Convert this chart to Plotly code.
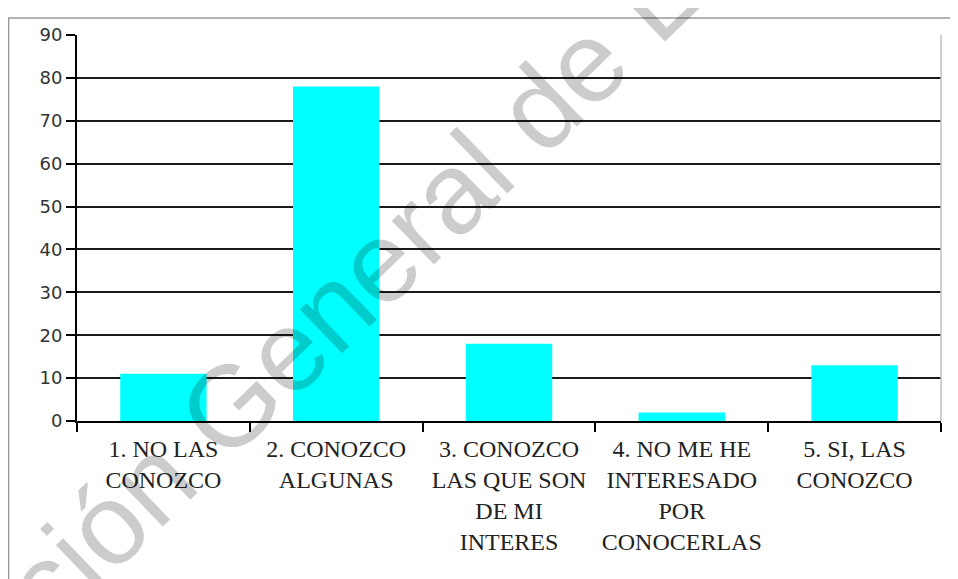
import plotly.graph_objects as go

categories = [
    "1. NO LAS<br>CONOZCO",
    "2. CONOZCO<br>ALGUNAS",
    "3. CONOZCO<br>LAS QUE SON<br>DE MI<br>INTERES",
    "4. NO ME HE<br>INTERESADO<br>POR<br>CONOCERLAS",
    "5. SI, LAS<br>CONOZCO",
]
values = [11, 78, 18, 2, 13]
y_ticks = [0, 10, 20, 30, 40, 50, 60, 70, 80, 90]
watermark = "ción General de L"

# page body has an 8px margin; figure sized so it fills the window
OFF = 8
W, H = 958 - OFF, 579 - OFF
L, R, T, B = 77 - OFF, 17, 35 - OFF, 158
pw, ph = W - L - R, H - T - B


def px_x(p):  # reference-window pixel -> paper x
    return (p - OFF - L) / pw


def px_y(p):  # reference-window pixel -> paper y
    return (H - B - (p - OFF)) / ph


fig = go.Figure()
fig.add_trace(go.Bar(
    x=categories, y=values,
    marker=dict(color="#00FFFF", line=dict(width=0)),
))

fig.update_layout(
    width=W, height=H,
    margin=dict(l=L, r=R, t=T, b=B),
    paper_bgcolor="white", plot_bgcolor="white",
    bargap=0.5,
    showlegend=False,
    xaxis=dict(
        type="category",
        showgrid=False,
        showline=True, linecolor="#000", linewidth=2,
        ticks="outside", ticklen=9, tickwidth=2, tickcolor="#000",
        tickson="boundaries",
        tickfont=dict(family="Liberation Serif", size=24, color="#222"),
        tickangle=0,
        ticklabelstandoff=5,
        fixedrange=True,
    ),
    yaxis=dict(
        range=[0, 90],
        tickvals=y_ticks,
        showgrid=True, gridcolor="#1a1a1a", gridwidth=2,
        showline=True, linecolor="#000", linewidth=2,
        ticks="outside", ticklen=9, tickwidth=2, tickcolor="#000",
        tickfont=dict(family="DejaVu Sans", size=18, color="#333"),
        zeroline=False,
        fixedrange=True,
    ),
    shapes=[
        dict(type="rect", xref="paper", yref="paper",
             x0=px_x(8.6), x1=px_x(975), y0=px_y(595), y1=px_y(18),
             line=dict(color="#999", width=1.5), fillcolor="rgba(0,0,0,0)", layer="below"),
        dict(type="line", xref="paper", yref="paper",
             x0=1, x1=1, y0=0, y1=1,
             line=dict(color="#c0c0c0", width=1.5)),
    ],
    annotations=[
        dict(text=watermark, xref="paper", yref="paper",
             x=px_x(350), y=px_y(290), xanchor="center", yanchor="middle",
             showarrow=False, textangle=-44,
             font=dict(family="Liberation Sans", size=115, color="rgba(0,0,0,0.2)")),
    ],
)

fig.write_html("out.html")
